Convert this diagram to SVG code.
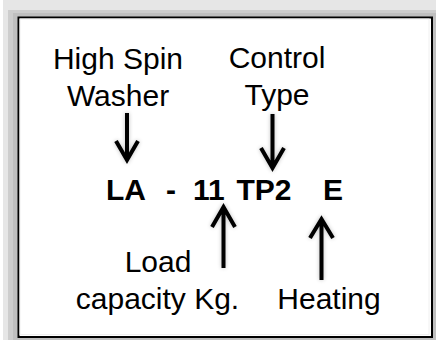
<svg xmlns="http://www.w3.org/2000/svg" width="436" height="340" viewBox="0 0 436 340">
<style>
.lbl{font-family:"Liberation Sans",Arial,Helvetica,sans-serif;font-size:30px;fill:#000;text-anchor:middle}
.code{font-family:"Liberation Sans",Arial,Helvetica,sans-serif;font-size:30px;font-weight:bold;fill:#000}
.arr{stroke:#000;stroke-width:4;fill:none;stroke-linecap:butt;stroke-linejoin:miter}
</style>
<defs>
<filter id="sh" x="-50%" y="-20%" width="200%" height="140%">
<feGaussianBlur in="SourceAlpha" stdDeviation="2"/>
<feComponentTransfer><feFuncA type="linear" slope="0.25"/></feComponentTransfer>
<feMerge><feMergeNode/><feMergeNode in="SourceGraphic"/></feMerge>
</filter>
</defs>
<rect x="0" y="0" width="436" height="340" fill="#ffffff"/>
<rect x="3" y="0" width="433" height="340" fill="#e6e6e6"/>
<rect x="8" y="10" width="428" height="330" fill="#cdcdcd"/>
<rect x="13" y="13" width="423" height="327" fill="#bfbfbf"/>
<rect x="18.5" y="17.5" width="413.5" height="319.5" fill="#ffffff" stroke="#000" stroke-width="2"/>
<rect x="20" y="19" width="409" height="315.5" fill="none" stroke="#f0f0f0" stroke-width="1"/>
<g id="node-washer"><text class="lbl" x="118" y="69">High Spin</text><text class="lbl" x="118" y="106">Washer</text></g>
<g id="node-control"><text class="lbl" x="277" y="68">Control</text><text class="lbl" x="277" y="105">Type</text></g>
<g id="node-code"><text class="code" x="106" y="200">LA</text><text class="code" x="166" y="200">-</text><text class="code" x="193" y="200">11</text><text class="code" x="236.5" y="200">TP2</text><text class="code" x="323" y="200">E</text></g>
<g id="node-load"><text class="lbl" x="158" y="272">Load</text><text class="lbl" x="157.5" y="309">capacity Kg.</text></g>
<g id="node-heating"><text class="lbl" x="329" y="309">Heating</text></g>
<g id="connectors" filter="url(#sh)">
<path class="arr" d="M127 113V160M116 141L127 160L138 141"/>
<path class="arr" d="M272.5 114V168M261 148L272.5 168L284 148"/>
<path class="arr" d="M223.5 268V207M212 227L223.5 207L235 227"/>
<path class="arr" d="M321.5 280V219M310 238L321.5 219L333 238"/>
</g>
</svg>
